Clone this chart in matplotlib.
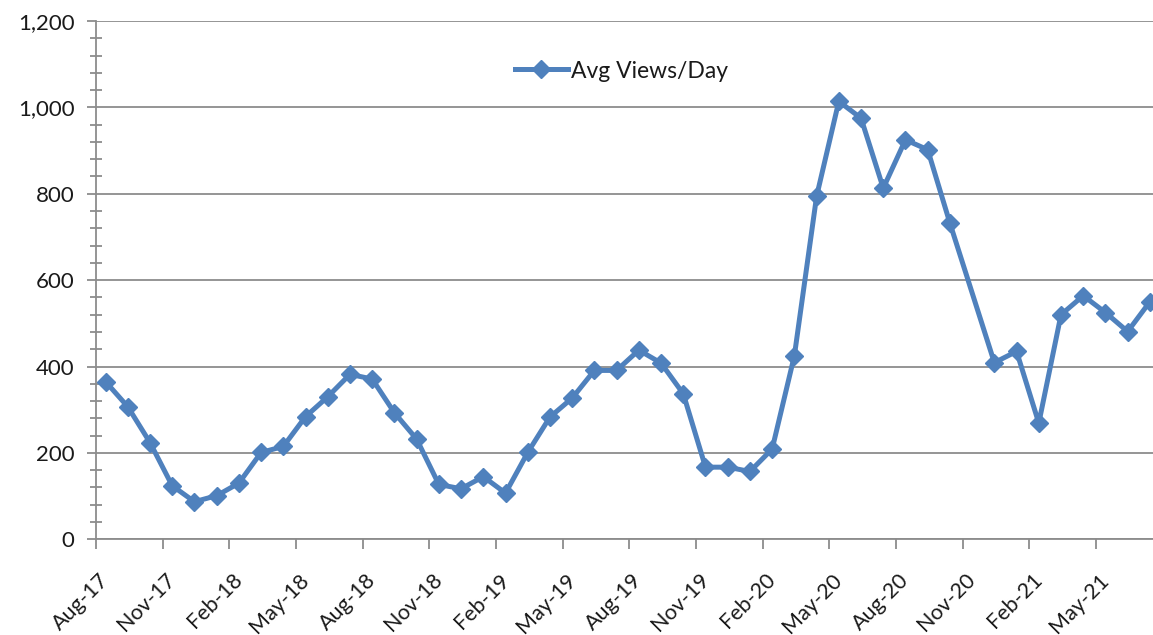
import matplotlib
matplotlib.use("Agg")
import matplotlib.pyplot as plt
import matplotlib.transforms as mtransforms
from matplotlib.ticker import MultipleLocator, FuncFormatter

# ---- data ----
month_index = [0, 1, 2, 3, 4, 5, 6, 7, 8, 9, 10, 11, 12, 13, 14, 15, 16, 17,
               18, 19, 20, 21, 22, 23, 24, 25, 26, 27, 28, 29, 30, 31, 32, 33,
               34, 35, 36, 37, 38, 40, 41, 42, 43, 44, 45, 46, 47]
avg_views = [365, 307, 224, 124, 87, 101, 130, 201, 215, 284, 330, 382, 371,
             293, 232, 127, 117, 145, 107, 201, 283, 327, 391, 391, 438, 408,
             337, 167, 167, 157, 209, 425, 794, 1014, 975, 813, 925, 902, 732,
             409, 435, 269, 520, 564, 525, 481, 550]
tick_labels = ["Aug-17", "Nov-17", "Feb-18", "May-18", "Aug-18", "Nov-18",
               "Feb-19", "May-19", "Aug-19", "Nov-19", "Feb-20", "May-20",
               "Aug-20", "Nov-20", "Feb-21", "May-21"]
series_name = "Avg Views/Day"

# ---- style ----
plt.rcParams['font.family'] = ['Lato', 'DejaVu Sans']
BLUE = '#4F81BD'
GRID = '#8c8c8c'
TXT = '#1a1a1a'

W, H, DPI = 1153, 635, 100
fig = plt.figure(figsize=(W / DPI, H / DPI), dpi=DPI)
left, right, top, bottom = 96, 1153, 21, 539.3
ax = fig.add_axes([left / W, 1 - bottom / H, (right - left) / W, (bottom - top) / H])

x = [m + 0.43 for m in month_index]
ax.plot(x, avg_views, color=BLUE, lw=3.6, marker='D', markersize=9.5,
        markeredgecolor=BLUE, markerfacecolor=BLUE, label=series_name,
        zorder=3, clip_on=True)

ax.set_xlim(0, (right - left) / 22.22)
ax.set_ylim(0, 1200)

ax.set_xticks(range(0, 3 * len(tick_labels), 3))
ax.set_xticklabels(tick_labels, rotation=45, ha='right', va='top')
ax.yaxis.set_major_locator(MultipleLocator(200))
ax.yaxis.set_minor_locator(MultipleLocator(40))
ax.yaxis.set_major_formatter(FuncFormatter(lambda v, p: f"{int(v):,}"))

ax.grid(axis='y', which='major', color=GRID, lw=1.3)
ax.set_axisbelow(True)
for s in ['top', 'right']:
    ax.spines[s].set_visible(False)
for s in ['left', 'bottom']:
    ax.spines[s].set_color(GRID)
    ax.spines[s].set_linewidth(1.3)

ax.tick_params(axis='y', which='major', direction='out', length=6.5, width=1.3,
               color=GRID, labelsize=16, labelcolor=TXT, pad=9)
ax.tick_params(axis='y', which='minor', direction='inout', length=9, width=1.3,
               color=GRID)
ax.tick_params(axis='x', which='major', direction='out', length=7, width=1.3,
               color=GRID, labelsize=15.5, labelcolor=TXT, pad=2)

offset = mtransforms.ScaledTranslation(17 / DPI, -18 / DPI, fig.dpi_scale_trans)
for lab in ax.get_xticklabels():
    lab.set_transform(lab.get_transform() + offset)

leg = fig.legend(loc='center left', bbox_to_anchor=(515 / W, 1 - 71 / H),
                 bbox_transform=fig.transFigure, frameon=False, borderpad=0,
                 borderaxespad=0, fontsize=16.5, handlelength=2.3,
                 handletextpad=0.15, labelcolor=TXT)

fig.savefig('out.png', dpi=DPI, facecolor='white')
